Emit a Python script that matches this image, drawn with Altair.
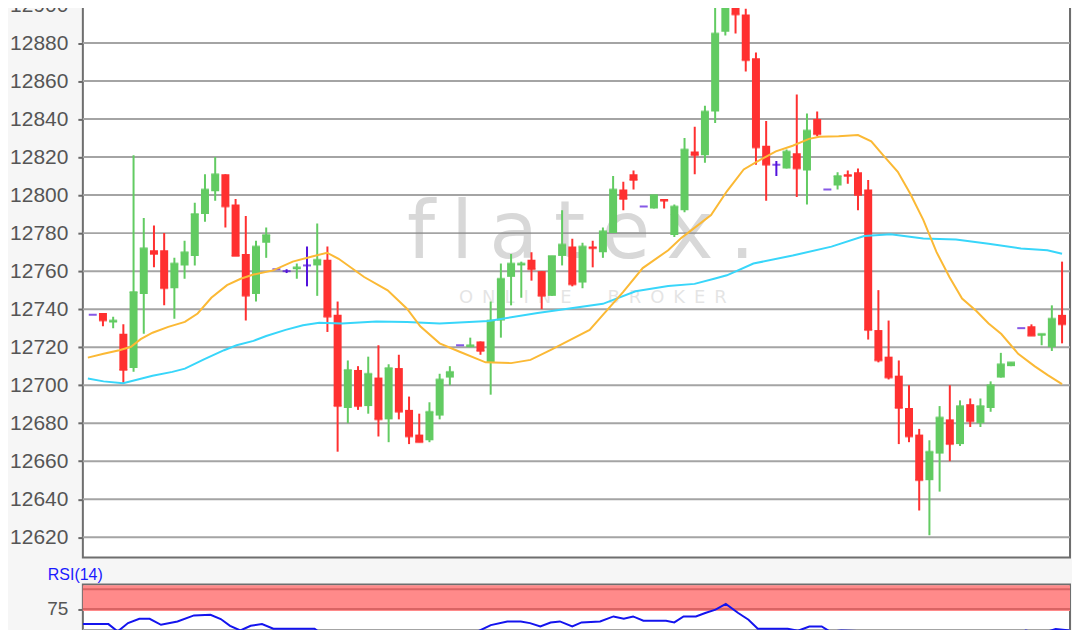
import altair as alt
import pandas as pd

# ---------------- data ----------------
opens = [12737, 12738, 12733, 12727, 12709, 12748, 12771, 12771, 12751, 12763,
         12768, 12790, 12802, 12811, 12795, 12769, 12748, 12775, 12761, 12760,
         12761, 12763, 12763, 12766, 12737, 12688, 12708, 12689, 12704, 12682,
         12709, 12687, 12674, 12671, 12684, 12704, 12721, 12720, 12723, 12712,
         12734, 12757, 12763, 12766, 12760, 12747, 12768, 12773, 12754, 12773,
         12770, 12780, 12803, 12811, 12794, 12793, 12798, 12779, 12792, 12823,
         12821, 12844, 12886, 12910, 12895, 12872, 12826, 12816, 12814, 12822,
         12813, 12840, 12803, 12805, 12811, 12812, 12803, 12729, 12715, 12705,
         12688, 12674, 12650, 12664, 12682, 12669, 12690, 12680, 12688, 12704,
         12710, 12730, 12731, 12726, 12720, 12737]
highs = [12737, 12738, 12736, 12732, 12821, 12788, 12784, 12780, 12767, 12776,
         12796, 12811, 12820, 12811, 12798, 12789, 12776, 12783, 12761, 12761,
         12764, 12773, 12785, 12773, 12744, 12713, 12710, 12715, 12721, 12711,
         12716, 12694, 12685, 12691, 12706, 12710, 12721, 12725, 12723, 12744,
         12764, 12769, 12765, 12770, 12760, 12768, 12792, 12777, 12775, 12776,
         12783, 12810, 12807, 12813, 12794, 12800, 12798, 12795, 12830, 12836,
         12847, 12901, 12915, 12915, 12898, 12875, 12839, 12818, 12824, 12853,
         12843, 12844, 12803, 12812, 12813, 12814, 12808, 12750, 12734, 12713,
         12700, 12677, 12671, 12689, 12700, 12692, 12693, 12693, 12702, 12717,
         12712, 12730, 12732, 12727, 12742, 12765]
lows = [12737, 12731, 12730, 12701, 12707, 12727, 12762, 12742, 12735, 12756,
        12763, 12786, 12797, 12783, 12768, 12734, 12744, 12767, 12761, 12759,
        12756, 12752, 12747, 12728, 12665, 12680, 12687, 12685, 12673, 12670,
        12682, 12669, 12670, 12670, 12682, 12700, 12721, 12720, 12716, 12695,
        12725, 12742, 12746, 12755, 12740, 12747, 12763, 12752, 12751, 12762,
        12767, 12780, 12792, 12803, 12794, 12793, 12793, 12778, 12791, 12811,
        12817, 12838, 12884, 12885, 12865, 12816, 12797, 12810, 12814, 12799,
        12795, 12831, 12803, 12803, 12806, 12792, 12724, 12712, 12703, 12669,
        12670, 12634, 12621, 12644, 12660, 12668, 12678, 12678, 12686, 12704,
        12710, 12730, 12726, 12721, 12718, 12722]
closes = [12737, 12734, 12734, 12708, 12749, 12772, 12769, 12751, 12764, 12770,
          12790, 12803, 12811, 12794, 12768, 12747, 12773, 12779, 12761, 12760,
          12762, 12763, 12766, 12736, 12689, 12708, 12689, 12706, 12682, 12709,
          12686, 12673, 12670, 12686, 12703, 12707, 12721, 12721, 12718, 12734,
          12756, 12764, 12764, 12761, 12747, 12768, 12774, 12753, 12773, 12772,
          12781, 12803, 12798, 12808, 12794, 12800, 12797, 12794, 12824, 12821,
          12844, 12885, 12912, 12895, 12871, 12825, 12816, 12816, 12823, 12814,
          12834, 12832, 12803, 12810, 12810, 12800, 12729, 12713, 12704, 12688,
          12673, 12650, 12665, 12683, 12669, 12689, 12681, 12689, 12700, 12711,
          12712, 12730, 12726, 12727, 12735, 12732]

# moving averages (position in candle index units, value)
ma_fast_x = [-0.48, 1.06, 2.6, 3.75, 4.7, 5.86, 7.4, 9.03, 10.28, 11.62, 13.16, 14.5,
             15.75, 17.68, 19.6, 21.5, 22.96, 24.1, 26.6, 28.9, 30.8, 32.1, 34.0, 35.9,
             38.5, 41.0, 42.9, 44.9, 46.8, 48.7, 50.0, 51.97, 53.9, 56.4, 57.7, 60.6,
             62.15, 63.8, 65.4, 66.95, 68.6, 70.2, 71.2, 73.1, 75.0, 76.3, 77.5, 78.9,
             80.1, 81.4, 82.7, 83.96, 85.2, 86.6, 87.8, 89.05, 90.7, 92.3, 93.6, 95.0]
ma_fast_y = [12714.5, 12716.5, 12718.4, 12720.2, 12724.2, 12727.6, 12730.7, 12733.3,
             12737.7, 12746.0, 12752.6, 12756.0, 12758.2, 12760.4, 12765.0, 12767.7,
             12769.7, 12766.5, 12756.9, 12749.9, 12740.2, 12731.0, 12722.0, 12717.7,
             12712.0, 12711.6, 12713.3, 12718.6, 12723.8, 12729.1, 12737.0, 12749.0,
             12761.6, 12771.0, 12777.5, 12789.5, 12802.0, 12813.5, 12818.5, 12823.0,
             12826.0, 12829.6, 12830.7, 12831.0, 12831.6, 12828.3, 12820.8, 12812.3,
             12801.0, 12787.0, 12770.0, 12756.9, 12745.6, 12739.0, 12732.5, 12726.9,
             12716.5, 12710.0, 12705.3, 12700.6]
ma_slow_x = [-0.48, 1.06, 2.98, 5.86, 7.8, 9.03, 10.95, 12.87, 14.1, 15.75, 17.0, 18.9,
             20.6, 22.2, 24.4, 27.8, 30.8, 34.0, 38.8, 43.6, 50.0, 53.2, 56.4, 58.98,
             60.9, 62.15, 64.75, 68.6, 72.4, 75.6, 78.2, 81.4, 84.6, 87.8, 90.97, 93.56, 95.0]
ma_slow_y = [12703.5, 12702.0, 12701.0, 12705.0, 12707.0, 12708.7, 12713.7, 12718.4,
             12721.0, 12723.3, 12725.9, 12729.1, 12731.5, 12732.9, 12732.5, 12733.5,
             12733.2, 12732.5, 12733.8, 12738.0, 12742.8, 12749.4, 12752.2, 12753.3,
             12756.0, 12757.8, 12764.0, 12768.2, 12772.9, 12778.5, 12779.4, 12777.2,
             12776.6, 12774.4, 12771.9, 12771.0, 12769.1]

# RSI(14)
rsi_x = [-0.48, 2.0, 2.9, 3.9, 5.0, 6.0, 7.1, 8.7, 10.3, 11.9, 12.9, 13.8, 14.8, 15.8,
         16.9, 18.0, 19.9, 22.0, 22.8, 23.8, 24.7, 25.6, 27.0, 28.0, 29.0, 30.2, 31.8,
         32.8, 34.3, 35.9, 37.8, 39.1, 40.7, 42.0, 42.9, 43.9, 44.9, 45.8, 47.0, 47.9,
         49.7, 51.0, 52.0, 52.9, 53.9, 56.1, 56.9, 57.8, 59.0, 59.9, 60.9, 61.9, 63.1,
         64.1, 65.0, 67.0, 67.9, 68.9, 70.0, 71.2, 72.0, 73.1, 74.6, 75.1, 75.6, 77.0,
         78.0, 79.0, 80.0, 81.0, 82.0, 83.0, 84.0, 84.9, 86.6, 87.8, 89.0, 90.0, 91.0,
         91.9, 92.9, 93.9, 95.29]
rsi_y = [57.1, 57.1, 48.4, 58.3, 63.4, 63.4, 56.3, 60.2, 67.4, 68.2, 63.1, 55.1, 49.5,
         55.1, 57.1, 51.6, 51.6, 51.6, 44.4, 38.5, 39.0, 38.0, 40.5, 38.0, 42.5, 40.0,
         39.7, 41.5, 46.3, 48.3, 48.3, 55.9, 60.3, 60.3, 58.3, 54.3, 59.0, 60.3, 54.3,
         59.1, 60.3, 66.2, 63.4, 66.2, 61.1, 61.1, 59.1, 66.2, 66.2, 70.2, 74.2, 81.0,
         70.2, 62.3, 51.6, 51.6, 51.6, 49.2, 54.3, 54.3, 48.3, 49.4, 49.0, 45.6, 38.5,
         30.0, 27.0, 24.0, 22.0, 19.0, 23.0, 30.0, 34.0, 38.5, 39.7, 42.5, 45.6, 45.6,
         49.4, 47.5, 47.5, 51.2, 49.4]

price_ticks = list(range(12620, 12901, 20))
rsi_tick_values = [75]
rsi_grid_values = [50]
rsi_zone = [72.5, 103.0]
rsi_zone_lines = [75, 98.5]

# ---------------- frames ----------------
n = len(opens)
candles = pd.DataFrame({
    "i": list(range(n)),
    "open": opens, "high": highs, "low": lows, "close": closes,
})
candles["lo"] = candles[["open", "close"]].min(axis=1)
candles["hi"] = candles[["open", "close"]].max(axis=1)
candles["dir"] = ["up" if c > o else ("down" if c < o else "flat")
                  for o, c in zip(opens, closes)]

fast = pd.DataFrame({"i": ma_fast_x, "v": ma_fast_y})
slow = pd.DataFrame({"i": ma_slow_x, "v": ma_slow_y})
rsi = pd.DataFrame({"i": rsi_x, "v": rsi_y})
grid = pd.DataFrame({"v": price_ticks})

X_DOM = [-0.48, 95.29]
xs = alt.Scale(domain=X_DOM, nice=False, zero=False)
ys = alt.Scale(domain=[12609.3, 12916], nice=False, zero=False)
col = alt.Scale(domain=["up", "down", "flat"], range=["#62cb62", "#ff3030", "#5212dc"])

W = 989
MAIN_H = 584

grid_layer = alt.Chart(grid).mark_rule(color="#a4a4a4", strokeWidth=2).encode(
    y=alt.Y("v:Q", scale=ys, axis=alt.Axis(values=price_ticks, title=None, grid=False,
                                           domain=False, tickSize=5, tickWidth=2,
                                           tickColor="#6a6a6a", labelPadding=10,
                                           labelFontSize=21, labelColor="#555555",
                                           labelFont="Liberation Sans", format="d")))

wm = alt.Chart(pd.DataFrame({"t": ["f\u2009l\u2009a\u2009t\u2009e\u2009x\u2009."]})).mark_text(
    font="DejaVu Sans", fontSize=80, color="#8a8a8a", opacity=0.33, align="center",
    baseline="alphabetic").encode(text="t:N", x=alt.value(499), y=alt.value(284))
wm2 = alt.Chart(pd.DataFrame({"t": ["O\u2002N\u2002L\u2002I\u2002N\u2002E\u2003\u2003B\u2002R\u2002O\u2002K\u2002E\u2002R"]})).mark_text(
    font="DejaVu Sans", fontSize=18, color="#8a8a8a", opacity=0.22, align="center",
    baseline="alphabetic").encode(text="t:N", x=alt.value(511), y=alt.value(329))

base = alt.Chart(candles)
wicks = base.mark_rule(strokeWidth=2, clip=True).encode(
    x=alt.X("i:Q", scale=xs, axis=None),
    y=alt.Y("low:Q", scale=ys), y2="high:Q",
    color=alt.Color("dir:N", scale=col, legend=None))
bodies = base.mark_bar(size=8, clip=True).encode(
    x=alt.X("i:Q", scale=xs, axis=None),
    y=alt.Y("lo:Q", scale=ys), y2="hi:Q",
    color=alt.Color("dir:N", scale=col, legend=None))
dashes = base.mark_tick(orient="horizontal", size=8, thickness=2, clip=True).encode(
    x=alt.X("i:Q", scale=xs, axis=None),
    y=alt.Y("close:Q", scale=ys),
    color=alt.Color("dir:N", scale=col, legend=None))

fast_line = alt.Chart(fast).mark_line(color="#fbb935", strokeWidth=2, clip=True).encode(
    x=alt.X("i:Q", scale=xs, axis=None), y=alt.Y("v:Q", scale=ys))
slow_line = alt.Chart(slow).mark_line(color="#38d6fa", strokeWidth=2, clip=True).encode(
    x=alt.X("i:Q", scale=xs, axis=None), y=alt.Y("v:Q", scale=ys))

main = alt.layer(grid_layer, wm, wm2, wicks, bodies, dashes, slow_line, fast_line).properties(
    width=W, height=MAIN_H)

# ---------------- RSI panel ----------------
rys = alt.Scale(domain=[0, 104], nice=False, zero=False)
zone = alt.Chart(pd.DataFrame({"a": [rsi_zone[0]], "b": [rsi_zone[1]]})).mark_rect(
    color="#ff8a8a").encode(
    x=alt.value(0), x2=alt.value(W),
    y=alt.Y("a:Q", scale=rys, axis=alt.Axis(values=rsi_tick_values, title=None, grid=False,
                                            domain=False, tickSize=5, tickWidth=2,
                                            tickColor="#6a6a6a", labelPadding=10,
                                            labelFontSize=19, labelColor="#555555",
                                            labelFont="Liberation Sans")),
    y2="b:Q")
zone_lines = alt.Chart(pd.DataFrame({"v": rsi_zone_lines})).mark_rule(
    color="#d96464", strokeWidth=2).encode(y=alt.Y("v:Q", scale=rys))
rsi_grid = alt.Chart(pd.DataFrame({"v": rsi_grid_values})).mark_rule(
    color="#a4a4a4", strokeWidth=2).encode(y=alt.Y("v:Q", scale=rys))
rsi_line = alt.Chart(rsi).mark_line(color="#1414ee", strokeWidth=2, clip=True).encode(
    x=alt.X("i:Q", scale=xs, axis=None), y=alt.Y("v:Q", scale=rys))

rsi_panel = alt.layer(zone, zone_lines, rsi_grid, rsi_line).properties(
    width=W, height=88,
    title=alt.TitleParams("RSI(14)", anchor="start", color="#1a1aff", fontSize=16,
                          font="Liberation Sans", fontWeight="normal", offset=2, dx=1))

chart = alt.vconcat(main, rsi_panel, spacing=7).resolve_scale(
    x="independent", y="independent", color="independent"
).properties(
    background="#f6f6f6",
    padding={"left": 0, "top": -35, "right": 0, "bottom": -44},
).configure_view(stroke="#6e6e6e", strokeWidth=2, fill="white")

chart.save("out.html", embed_options={"renderer": "svg", "actions": False})
